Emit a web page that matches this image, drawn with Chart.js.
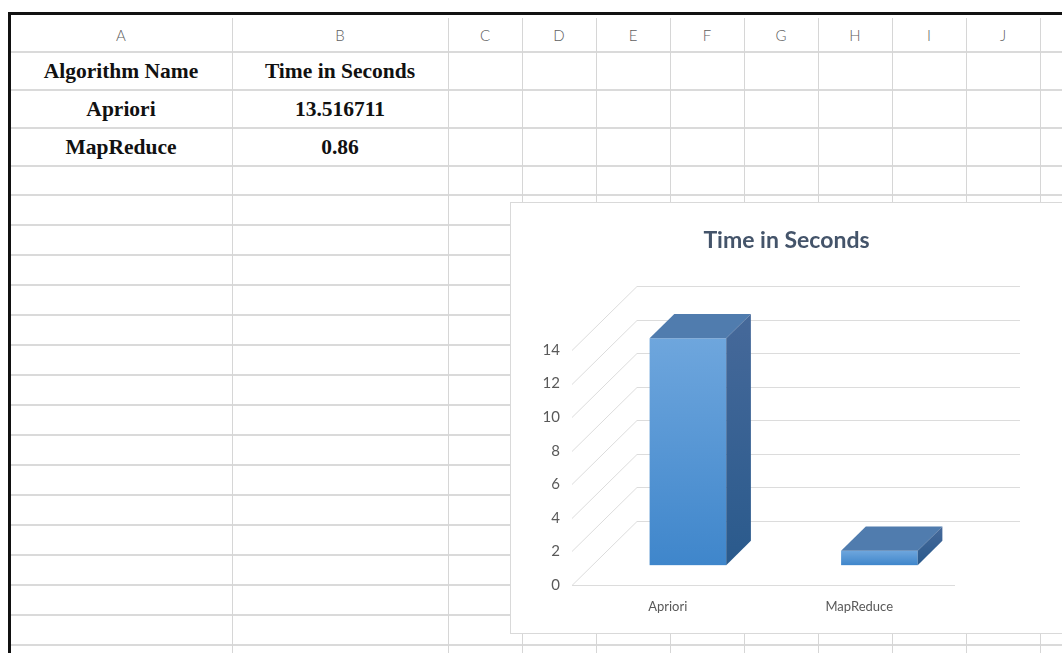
<!DOCTYPE html>
<html>
<head>
<meta charset="utf-8">
<script src="https://cdn.jsdelivr.net/npm/chart.js@4/dist/chart.umd.min.js"></script>
<style>
  html, body { margin: 0; padding: 0; background: #fff; }
  body { width: 1062px; height: 653px; position: relative; overflow: hidden; }
  .hl { position: absolute; height: 2px; background: #DADADA; }
  .vl { position: absolute; width: 1px; background: #D6D6D6; }
  .colhdr { position: absolute; top: 26px; font-family: Lato, sans-serif; font-size: 15px; font-weight: 300; color: #606060; text-align: center; }
  .cell { position: absolute; font-family: "Liberation Serif", "Times New Roman", serif; font-weight: bold; font-size: 21.5px; color: #111; text-align: center; line-height: 38px; height: 38px; }
  #chartBox { position: absolute; left: 510px; top: 202px; width: 600px; height: 430px; background: #fff; border: 1px solid #D9D9D9; }
  #c { position: absolute; left: 511px; top: 203px; }
  .frameTop { position: absolute; left: 8px; top: 12px; width: 1054px; height: 3px; background: #111; }
  .frameLeft { position: absolute; left: 8px; top: 12px; width: 3px; height: 641px; background: #111; }
</style>
</head>
<body>
<div id="sheet"></div>
<div id="chartBox"></div>
<canvas id="c" width="551" height="430"></canvas>
<div class="frameTop"></div>
<div class="frameLeft"></div>
<script>
// ---- data ----
const columnLetters = ["A","B","C","D","E","F","G","H","I","J"];
const headerRow = ["Algorithm Name", "Time in Seconds"];
const categories = ["Apriori", "MapReduce"];
const timeValues = [13.516711, 0.86];
const valueLabels = ["13.516711", "0.86"];
const chartTitle = "Time in Seconds";
const yTickStep = 2;
const yMax = 14;

// ---- sheet layout (positions / styles) ----
const colEdges = [10, 232, 448, 522, 596, 670, 744, 818, 892, 966, 1040, 1114];
const rowEdges = [52, 90, 128, 166];
for (let y = 195; y <= 653; y += 30) rowEdges.push(y);

const sheet = document.getElementById('sheet');
rowEdges.forEach(y => {
  const d = document.createElement('div');
  d.className = 'hl';
  d.style.left = '10px'; d.style.width = '1052px'; d.style.top = (y - 1) + 'px';
  sheet.appendChild(d);
});
colEdges.slice(1).forEach(x => {
  const d = document.createElement('div');
  d.className = 'vl';
  d.style.left = x + 'px'; d.style.top = '18px'; d.style.height = '640px';
  sheet.appendChild(d);
});
columnLetters.forEach((L, i) => {
  const d = document.createElement('div');
  d.className = 'colhdr';
  d.style.left = colEdges[i] + 'px';
  d.style.width = (colEdges[i + 1] - colEdges[i]) + 'px';
  d.textContent = L;
  sheet.appendChild(d);
});
const tableRows = [headerRow].concat(categories.map((c, i) => [c, valueLabels[i]]));
tableRows.forEach((r, ri) => {
  r.forEach((txt, ci) => {
    const d = document.createElement('div');
    d.className = 'cell';
    d.style.left = colEdges[ci] + 'px';
    d.style.width = (colEdges[ci + 1] - colEdges[ci]) + 'px';
    d.style.top = rowEdges[ri] + 'px';
    d.textContent = txt;
    sheet.appendChild(d);
  });
});

// ---- 3D look ----
const DEPTH_DX = 65, DEPTH_DY = -64;
const BAR_FRONT = 0.31, BAR_DEPTH = 0.38;

const wallPlugin = {
  id: 'wall3d',
  beforeDatasetsDraw(chart) {
    const ctx = chart.ctx, a = chart.chartArea, ys = chart.scales.y;
    ctx.save();
    ctx.strokeStyle = '#DCDCDC';
    ctx.lineWidth = 1;
    ys.ticks.forEach(t => {
      const y = Math.round(ys.getPixelForValue(t.value)) + 0.5;
      ctx.beginPath();
      ctx.moveTo(a.left, y);
      ctx.lineTo(a.left + DEPTH_DX, y + DEPTH_DY);
      ctx.lineTo(a.right + DEPTH_DX, y + DEPTH_DY);
      ctx.stroke();
    });
    const y0 = Math.round(ys.getPixelForValue(0)) + 0.5;
    ctx.beginPath();
    ctx.moveTo(a.left, y0);
    ctx.lineTo(a.right, y0);
    ctx.stroke();
    ctx.restore();
  }
};

const barPlugin = {
  id: 'bar3d',
  afterDatasetsDraw(chart) {
    const ctx = chart.ctx;
    const meta = chart.getDatasetMeta(0);
    const fx = DEPTH_DX * BAR_FRONT, fy = DEPTH_DY * BAR_FRONT;
    const bx = DEPTH_DX * BAR_DEPTH, by = DEPTH_DY * BAR_DEPTH;
    meta.data.forEach(el => {
      const p = el.getProps(['x', 'y', 'base', 'width'], true);
      const l = p.x - p.width / 2 + fx, r = p.x + p.width / 2 + fx;
      const t = p.y + fy, b = p.base + fy;
      const g = ctx.createLinearGradient(0, t, 0, b);
      g.addColorStop(0, '#6EA6DD');
      g.addColorStop(1, '#3F86CB');
      ctx.fillStyle = g;
      ctx.fillRect(l, t, r - l, b - t);
      ctx.fillStyle = '#507CAE';
      ctx.beginPath();
      ctx.moveTo(l, t); ctx.lineTo(l + bx, t + by); ctx.lineTo(r + bx, t + by); ctx.lineTo(r, t);
      ctx.closePath(); ctx.fill();
      const gs = ctx.createLinearGradient(0, t + by, 0, b);
      gs.addColorStop(0, '#46699A');
      gs.addColorStop(1, '#2A5A8C');
      ctx.fillStyle = gs;
      ctx.beginPath();
      ctx.moveTo(r, t); ctx.lineTo(r + bx, t + by); ctx.lineTo(r + bx, b + by); ctx.lineTo(r, b);
      ctx.closePath(); ctx.fill();
    });
  }
};

new Chart(document.getElementById('c'), {
  type: 'bar',
  data: {
    labels: categories,
    datasets: [{
      label: chartTitle,
      data: timeValues,
      backgroundColor: 'rgba(0,0,0,0)',
      borderWidth: 0,
      barPercentage: 0.4,
      categoryPercentage: 1.0
    }]
  },
  options: {
    responsive: false,
    animation: false,
    events: [],
    layout: { padding: 0 },
    plugins: {
      legend: { display: false },
      tooltip: { enabled: false },
      title: {
        display: true,
        text: chartTitle,
        color: '#44546A',
        font: { family: 'Lato', size: 23, weight: 'bold' },
        padding: { top: 23.4, bottom: 96 }
      }
    },
    scales: {
      x: {
        grid: { display: false, drawTicks: false },
        border: { display: false },
        ticks: { padding: 14, color: '#595959', font: { family: 'Lato', size: 13 } },
        afterFit: s => { s.height = 48; }
      },
      y: {
        min: 0, max: yMax,
        grid: { display: false, drawTicks: false },
        border: { display: false },
        ticks: { stepSize: yTickStep, padding: 12, color: '#595959', font: { family: 'Lato', size: 15 } },
        afterFit: s => { s.width = 61; }
      },
      depthSpace: {
        type: 'linear',
        position: 'right',
        display: true,
        grid: { display: false, drawTicks: false },
        border: { display: false },
        ticks: { display: false },
        afterFit: s => { s.width = 107; }
      }
    }
  },
  plugins: [wallPlugin, barPlugin]
});
</script>
</body>
</html>
